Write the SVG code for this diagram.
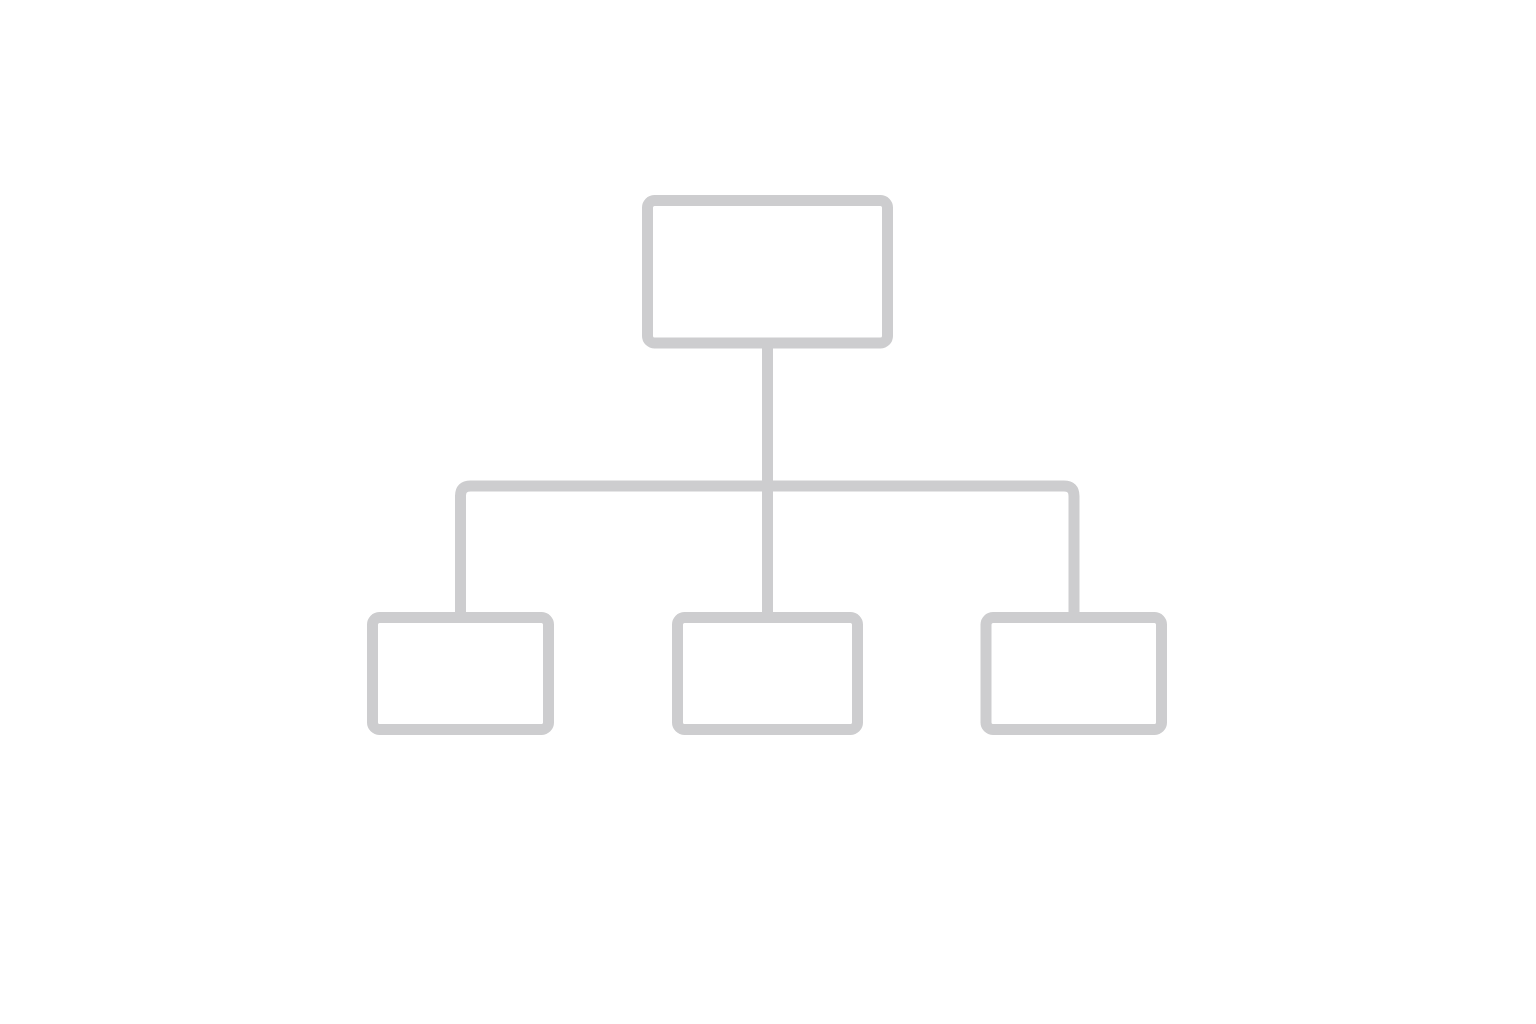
<svg xmlns="http://www.w3.org/2000/svg" width="1536" height="1024" viewBox="0 0 1536 1024">
<style>
.node{fill:#ffffff;stroke:#cdcdcf;stroke-width:11}
.conn{fill:none;stroke:#cdcdcf;stroke-width:11;stroke-linejoin:round}
</style>
<rect width="1536" height="1024" fill="#ffffff"/>
<g id="connectors">
<path class="conn" d="M767.5 343 V486"/>
<path class="conn" d="M460.5 617 V496 Q460.5 486 470.5 486 H1064 Q1074 486 1074 496 V617"/>
<path class="conn" d="M767.5 486 V617"/>
</g>
<g id="node-top"><rect class="node" x="647.5" y="200.5" width="240" height="142.5" rx="7"/></g>
<g id="node-left"><rect class="node" x="372.5" y="617.5" width="176" height="112" rx="7"/></g>
<g id="node-middle"><rect class="node" x="677.5" y="617.5" width="180" height="112" rx="7"/></g>
<g id="node-right"><rect class="node" x="986" y="617.5" width="175.5" height="112" rx="7"/></g>
</svg>
